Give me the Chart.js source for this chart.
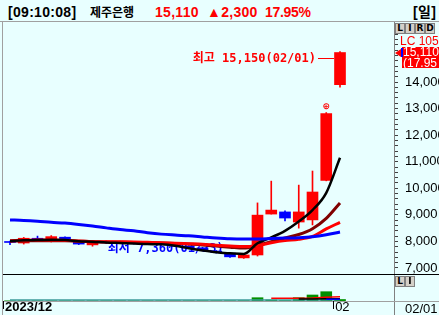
<!DOCTYPE html>
<html><head><meta charset="utf-8">
<script src="https://cdn.jsdelivr.net/npm/chart.js@4.4.1/dist/chart.umd.min.js"></script>
<style>
html,body{margin:0;padding:0}
body{width:439px;height:315px;overflow:hidden;background:#e8ffff;position:relative;font-family:"Liberation Sans",Arial,sans-serif}
.a{position:absolute;white-space:nowrap}
#hdr span{position:absolute;top:3px;line-height:18px;font-size:14px;font-weight:bold;letter-spacing:0.3px;white-space:nowrap}
.btn{position:absolute;width:8px;height:9px;border:1px solid #808080;background:#d4d0c8;font:bold 9px/9px "DejaVu Sans",sans-serif;text-align:center;color:#000}
canvas{position:absolute;left:0}
</style></head>
<body>
<div id="hdr">
 <span id="hTime" style="left:8px;color:#000"></span>
 <span id="hName" style="left:90px;color:#000;font-family:'Noto Sans CJK KR';font-size:12px;letter-spacing:0"></span>
 <span id="hPrice" style="left:155px;color:#f00"></span>
 <span id="hChg" style="left:207px;color:#f00"></span>
 <span id="hPct" style="left:265px;color:#f00;letter-spacing:-0.3px"></span>
 <span id="hPer" style="left:413px;color:#000;font-family:'Liberation Sans','Noto Sans CJK KR'"></span>
</div>
<div class="a" style="left:0;top:21px;width:439px;height:1px;background:#a0a0a0"></div>
<div class="a" style="left:2px;top:22px;width:1px;height:293px;background:#a0a0a0"></div>
<div class="a" style="left:394px;top:22px;width:1px;height:293px;background:#808080"></div>
<div class="a" style="left:3px;top:274px;width:436px;height:1px;background:#000"></div>
<div class="a" style="left:3px;top:301px;width:436px;height:1px;background:#a0a0a0"></div>
<canvas id="price" width="439" height="251" style="top:23px"></canvas>
<canvas id="vol" width="439" height="40" style="top:275px"></canvas>
<div class="btn" style="left:395px;top:23px">L</div><div class="btn" style="left:405px;top:23px">I</div><div class="btn" style="left:415px;top:23px">R</div><div class="btn" style="left:425px;top:23px">D</div>
<div class="btn" style="left:395px;top:276px">L</div><div class="btn" style="left:405px;top:276px">I</div>
<div class="a" id="lc" style="left:400px;top:35px;font-size:12px;line-height:12px;color:#f00"></div>
<div class="a" id="pbox" style="left:402px;top:47px;width:37px;height:21px;background:#f00;color:#fff;font-size:12px;line-height:10.5px;overflow:hidden;padding-left:1px"></div>
<div class="a" id="parrow" style="left:395px;width:0;height:0;border-top:4px solid transparent;border-bottom:4px solid transparent;border-right:6px solid #f00"></div>
<div class="a" id="pbar" style="left:401px;width:2px;height:9px;background:#00f"></div>
<div class="a" id="lastDate" style="left:405px;top:302px;font-size:13px;line-height:13px;color:#000"></div>
<script>
// ---- data ----
const stockName = '제주은행';
const quoteTime = '09:10:08';
const lastPrice = 15110;
const priceChange = 2300;
const changePct = 17.95;
const periodLabel = '일';
const lcValue = 105;

const dates = ['2023/12/27','2023/12/28','2024/01/02','2024/01/03','2024/01/04','2024/01/05','2024/01/08','2024/01/09','2024/01/10','2024/01/11','2024/01/12','2024/01/15','2024/01/16','2024/01/17','2024/01/18','2024/01/19','2024/01/22','2024/01/23','2024/01/24','2024/01/25','2024/01/26','2024/01/29','2024/01/30','2024/01/31','2024/02/01'];
const opens  = [7980,7940,8120,8000,8160,7980,7870,8000,7950,7990,7920,7950,7880,7820,7760,7640,7560,7380,7490,9030,9110,8730,8810,10300,13900];
const highs  = [8010,8150,8200,8220,8170,8000,8020,8020,8010,8000,7990,7960,7900,7840,7780,7660,7580,7510,9450,10270,9150,10120,10650,12850,15150];
const lows   = [7880,7900,8040,7980,7990,7880,7820,7920,7920,7900,7890,7850,7800,7740,7660,7560,7400,7360,7450,9030,8770,8500,8620,10280,13810];
const closes = [7960,8120,8050,8180,8000,7900,8010,7950,7990,7930,7960,7880,7820,7760,7680,7580,7420,7490,8990,9180,8880,9110,9860,12810,15110];
const ma5   = [8020,8040,8050,8060,8050,8010,7990,7960,7940,7920,7900,7890,7840,7745,7660,7590,7553,7525,7930,8150,8400,8750,9180,9830,11150];
const ma10  = [8010,8020,8030,8030,8030,8010,7990,7980,7970,7960,7950,7940,7925,7900,7865,7825,7785,7750,7850,7990,8130,8260,8480,8870,9450];
const ma20  = [8030,8045,8054,8050,8035,8020,8000,7990,7985,7978,7965,7952,7935,7915,7895,7860,7830,7805,7850,7950,8030,8080,8190,8470,8720];
const ma60  = [8807,8790,8760,8720,8690,8640,8580,8510,8445,8400,8330,8275,8240,8210,8170,8130,8100,8090,8095,8110,8125,8140,8175,8250,8355];
const volume = [20,15,20,20,15,15,20,15,20,15,15,20,15,20,20,20,25,30,330,100,40,330,600,930,150];
const volMa5  = [null,null,null,null,null,null,null,null,null,null,null,null,null,null,null,null,null,null,null,280,270,280,300,380,420];
const volMa20 = [null,null,null,null,null,null,null,null,null,null,null,null,null,null,null,null,null,null,null,null,null,200,210,220,230];
const volMa60 = [null,null,null,null,null,null,null,null,null,null,null,null,null,null,null,null,null,null,null,null,null,null,null,170,180];
const volMa120 = [100,100,100,100,100,100,100,100,100,100,100,100,100,100,100,100,100,100,100,100,100,100,100,110,120];
const priceTickLabels = [7000,8000,9000,10000,11000,12000,13000,14000];
const minorTickStep = 200;

// ---- helpers ----
const fmt = v => v.toLocaleString('en-US');
const RED = '#ff0000', BLUE = '#0000ff';
const X_MIN = -0.509, X_MAX = 27.927;
const pts = arr => arr.map((v, i) => ({x: i, y: v}));
const candleColors = opens.map((o, i) => closes[i] >= o ? RED : BLUE);

document.getElementById('hTime').textContent = '[' + quoteTime + ']';
document.getElementById('hName').textContent = stockName;
document.getElementById('hPrice').textContent = fmt(lastPrice);
document.getElementById('hChg').textContent = '▲' + fmt(priceChange);
document.getElementById('hPct').textContent = changePct.toFixed(2) + '%';
document.getElementById('hPer').textContent = '[' + periodLabel + ']';
document.getElementById('lc').textContent = 'LC ' + lcValue;
document.getElementById('pbox').innerHTML = fmt(lastPrice) + '<br>(' + changePct.toFixed(2);
document.getElementById('lastDate').textContent = dates[dates.length - 1].slice(5);

const minorTicks = [];
for (let v = priceTickLabels[0]; v <= 16200; v += minorTickStep) minorTicks.push(v);

const extrema = {
  id: 'extrema',
  beforeDatasetsDraw(chart) {
    const {ctx, scales: {x, y}} = chart;
    const hi = highs.indexOf(Math.max(...highs));
    const lo = lows.indexOf(Math.min(...lows));
    ctx.save();
    ctx.font = 'bold 12px "DejaVu Sans Mono","Noto Sans CJK KR",monospace';
    ctx.textBaseline = 'middle';
    ctx.textAlign = 'right';
    let cx = x.getPixelForValue(hi) - 6, cy = Math.round(y.getPixelForValue(highs[hi]) + 7) + 0.5;
    ctx.strokeStyle = RED; ctx.fillStyle = RED; ctx.lineWidth = 1;
    ctx.beginPath(); ctx.moveTo(cx - 16, cy); ctx.lineTo(cx, cy); ctx.stroke();
    ctx.fillText('최고 ' + fmt(highs[hi]) + '(' + dates[hi].slice(5) + ')', cx - 18, cy);
    cx = x.getPixelForValue(lo) - 20; cy = y.getPixelForValue(lows[lo]) - 10;
    ctx.fillStyle = BLUE;
    ctx.fillText('최저 ' + fmt(lows[lo]) + '(' + dates[lo].slice(5) + ')', cx, cy);
    ctx.restore();
  },
  afterDatasetsDraw(chart) {
    // small marker above the 01/31 candle
    const {ctx, scales: {x, y}} = chart;
    const i = 23;
    const px = x.getPixelForValue(i), py = y.getPixelForValue(highs[i]);
    ctx.save();
    ctx.fillStyle = RED;
    ctx.font = 'bold 9px "DejaVu Sans",sans-serif';
    ctx.textAlign = 'center'; ctx.textBaseline = 'bottom';
    ctx.fillText('⊕', px, py - 1);
    ctx.restore();
  }
};

const priceChart = new Chart(document.getElementById('price'), {
  type: 'bar',
  data: {
    datasets: [
      {type: 'line', label: 'MA60', data: pts(ma60), borderColor: BLUE, borderWidth: 3, pointRadius: 0, order: 1, cubicInterpolationMode: 'monotone'},
      {type: 'line', label: 'MA5', data: pts(ma5), borderColor: '#000000', borderWidth: 2.5, pointRadius: 0, order: 2, cubicInterpolationMode: 'monotone'},
      {type: 'line', label: 'MA20', data: pts(ma20), borderColor: RED, borderWidth: 3, pointRadius: 0, order: 3, cubicInterpolationMode: 'monotone'},
      {type: 'line', label: 'MA10', data: pts(ma10), borderColor: '#800000', borderWidth: 3, pointRadius: 0, order: 4, cubicInterpolationMode: 'monotone'},
      {label: 'body', data: opens.map((o, i) => ({x: i, y: [o, closes[i]]})), backgroundColor: candleColors, barThickness: 11, grouped: false, minBarLength: 1, order: 10},
      {label: 'wick', data: lows.map((l, i) => ({x: i, y: [l, highs[i]]})), backgroundColor: candleColors, barThickness: 1, grouped: false, order: 11}
    ]
  },
  options: {
    responsive: false, animation: false, devicePixelRatio: 1,
    layout: {padding: {left: 3, right: 0, top: 0, bottom: 0}},
    plugins: {legend: {display: false}, tooltip: {enabled: false}},
    scales: {
      x: {type: 'linear', display: false, min: X_MIN, max: X_MAX, offset: false, grid: {offset: false}},
      y: {
        position: 'right', min: 6774, max: 16221,
        afterFit(s) { s.width = 45; s.paddingTop = 0; s.paddingBottom = 0; },
        afterBuildTicks(s) { s.ticks = minorTicks.map(v => ({value: v})); },
        border: {display: true, color: '#808080'},
        grid: {drawOnChartArea: false, drawTicks: true, tickLength: 4, color: '#404040'},
        ticks: {autoSkip: false, padding: 7, color: '#000', font: {family: 'Liberation Sans', size: 13},
          callback: v => priceTickLabels.includes(v) ? fmt(v) : ''}
      }
    }
  },
  plugins: [extrema]
});

const monthStarts = [];
dates.forEach((d, i) => { if (i === 0 || d.slice(0, 7) !== dates[i - 1].slice(0, 7)) monthStarts.push(i); });
const shownMonths = [];
monthStarts.forEach(i => { if (!shownMonths.length || i - shownMonths[shownMonths.length - 1] >= 4) shownMonths.push(i); });

new Chart(document.getElementById('vol'), {
  type: 'bar',
  data: {
    datasets: [
      {type: 'line', data: pts(volMa60), borderColor: BLUE, borderWidth: 1.5, pointRadius: 0, order: 1},
      {type: 'line', data: pts(volMa20), borderColor: '#000000', borderWidth: 1.5, pointRadius: 0, order: 2},
      {type: 'line', data: pts(volMa5), borderColor: RED, borderWidth: 1.5, pointRadius: 0, order: 3},
      {type: 'line', data: pts(volMa120), borderColor: '#3c9c9c', borderWidth: 1.5, pointRadius: 0, order: 4},
      {label: 'volume', data: pts(volume), backgroundColor: '#009000', barThickness: 11, grouped: false, order: 10}
    ]
  },
  options: {
    responsive: false, animation: false, devicePixelRatio: 1,
    layout: {padding: {left: 3, right: 0, top: 0, bottom: 0}},
    plugins: {legend: {display: false}, tooltip: {enabled: false}},
    scales: {
      x: {
        type: 'linear', position: 'bottom', min: X_MIN, max: X_MAX, offset: false,
        afterFit(s) { s.height = 14; },
        afterBuildTicks(s) { s.ticks = shownMonths.map(i => ({value: i - 0.5})); },
        border: {display: false},
        grid: {drawOnChartArea: false, drawTicks: true, tickLength: 8, color: '#000', offset: false},
        ticks: {autoSkip: false, align: 'start', labelOffset: 2, padding: -9, color: '#000', maxRotation: 0,
          font: c => ({family: 'Liberation Sans', size: 13, weight: c.index === 0 ? 'bold' : 'normal'}),
          callback: v => { const i = Math.round(v + 0.5); return i === 0 ? dates[0].slice(0, 7) : dates[i].slice(5, 7); }}
      },
      y: {
        position: 'right', min: 0, max: 2600,
        afterFit(s) { s.width = 45; s.paddingTop = 0; s.paddingBottom = 0; },
        ticks: {display: false}, grid: {display: false}, border: {display: false}
      }
    }
  }
});

const py = priceChart.scales.y.getPixelForValue(lastPrice) + 23;
document.getElementById('parrow').style.top = (py - 4) + 'px';
document.getElementById('pbar').style.top = (py - 5) + 'px';
</script>
</body></html>
